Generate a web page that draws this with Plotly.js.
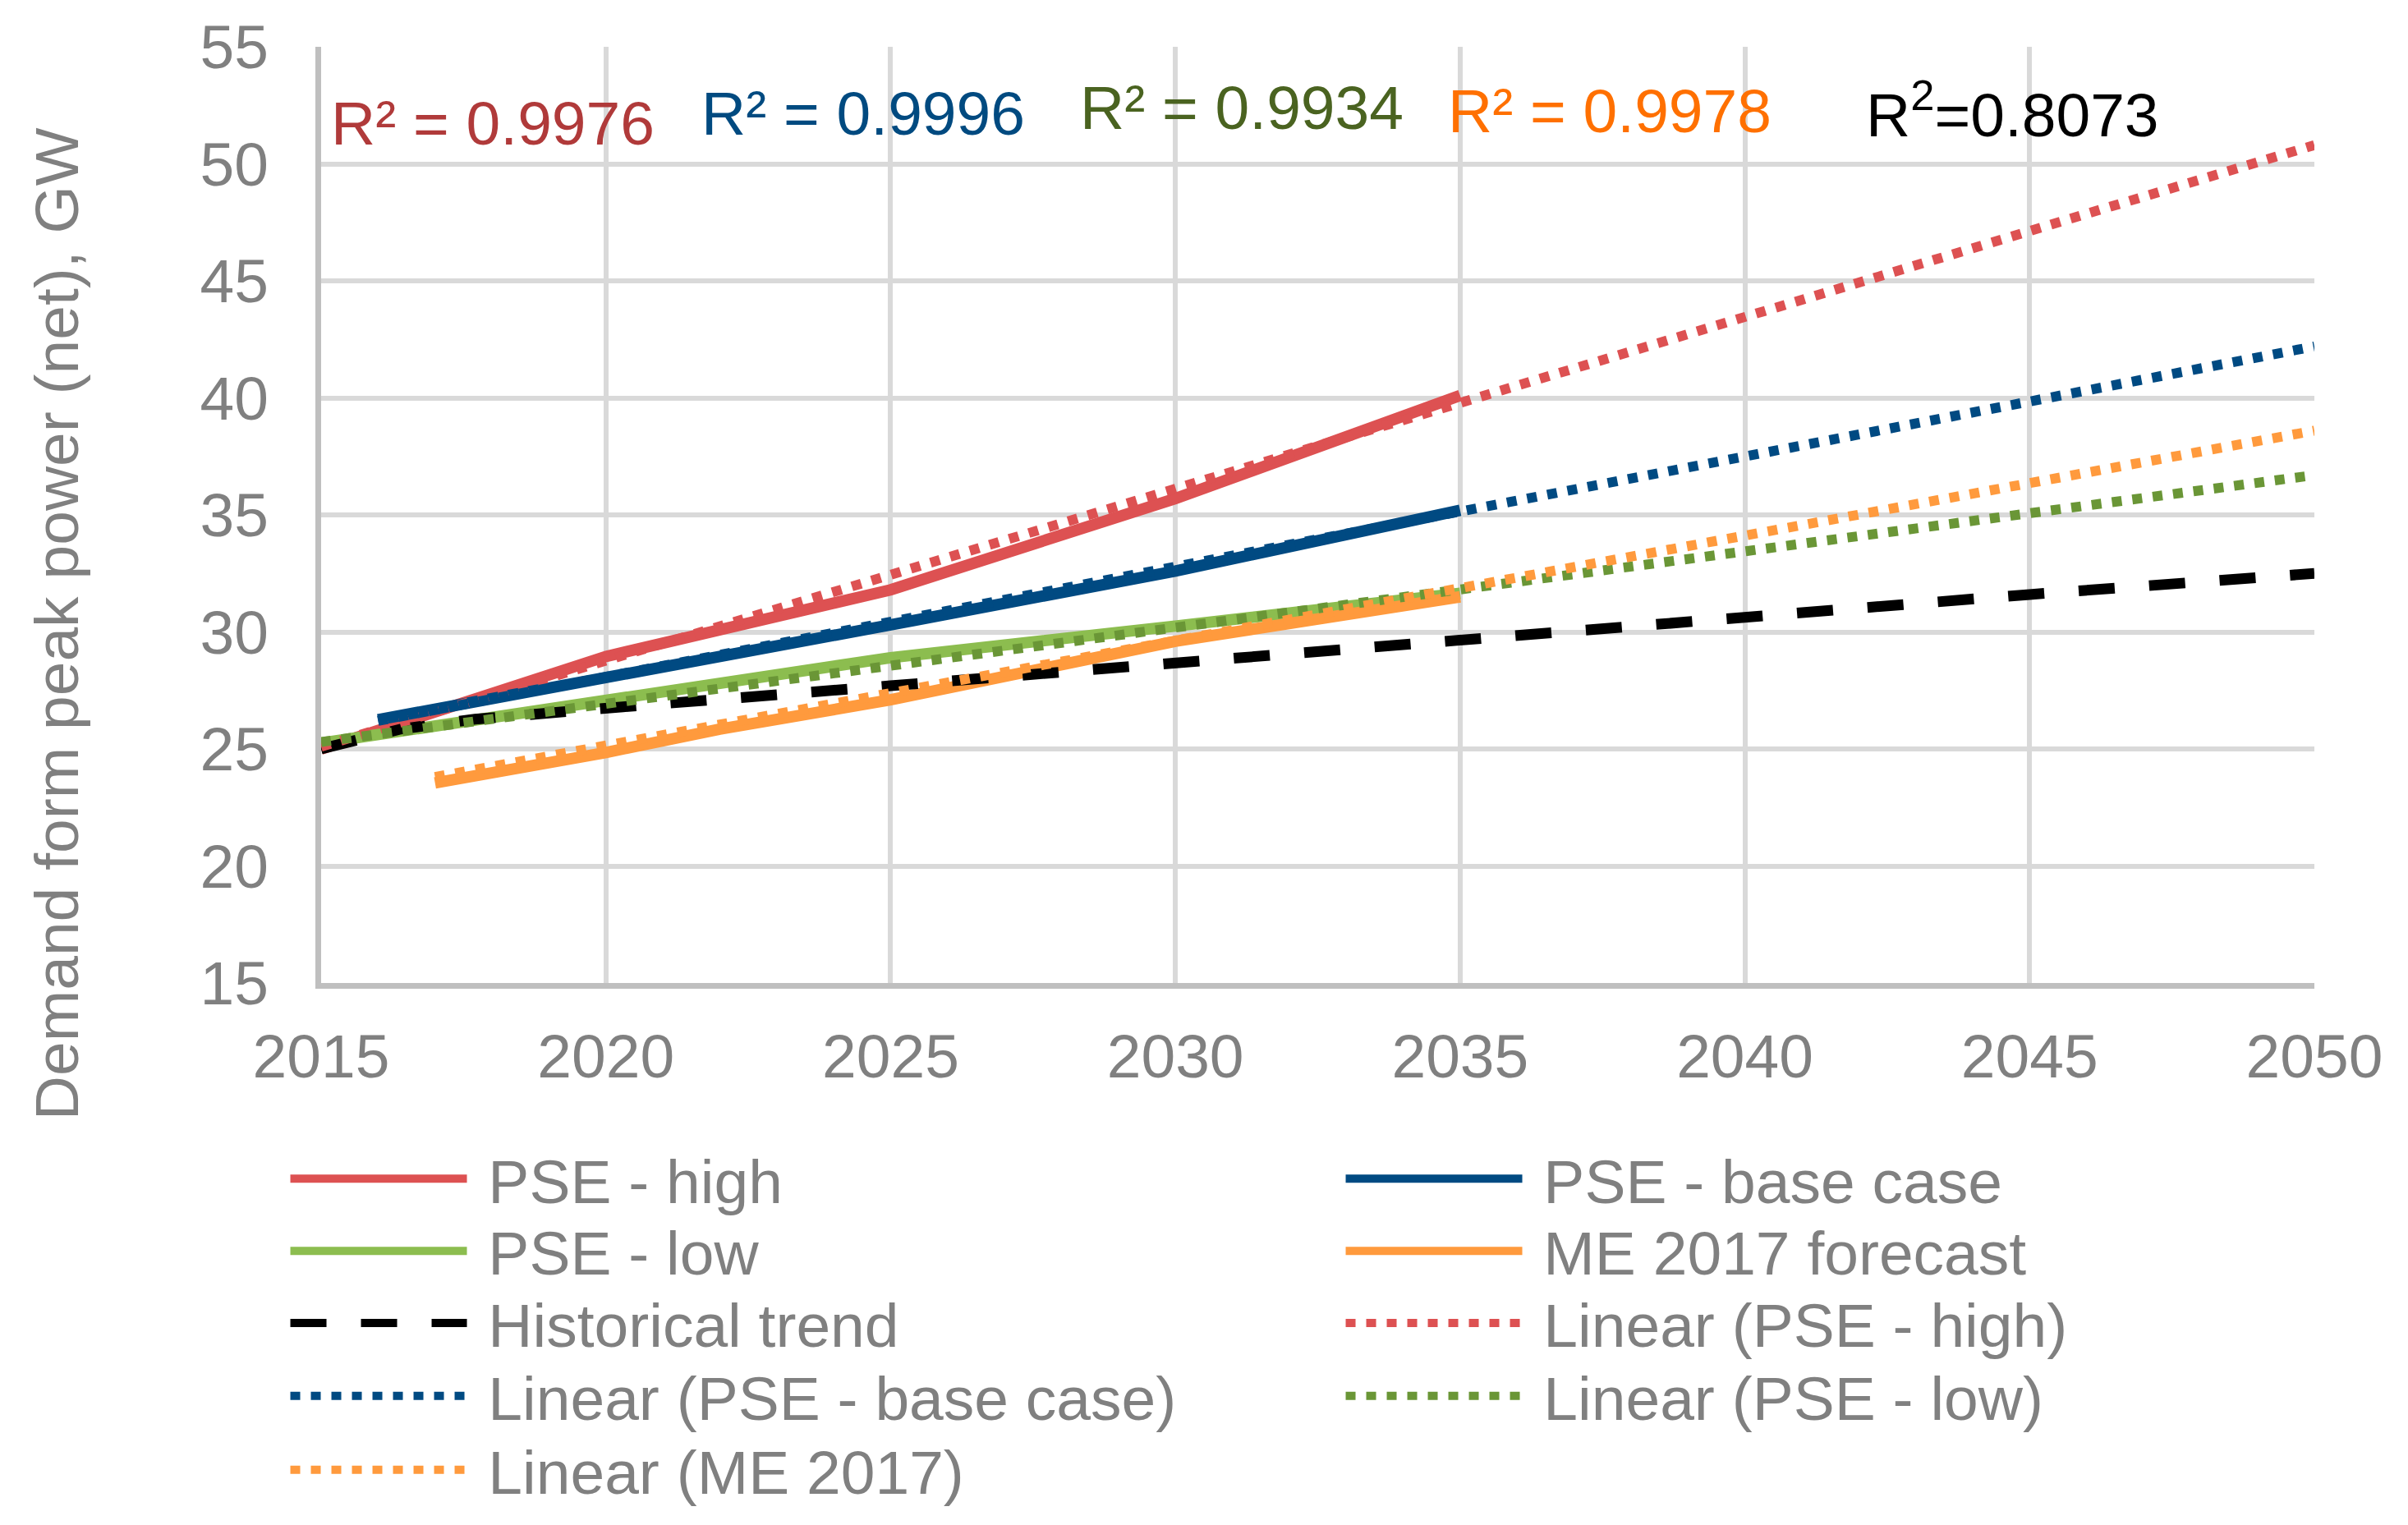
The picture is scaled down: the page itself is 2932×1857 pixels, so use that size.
<!DOCTYPE html>
<html>
<head>
<meta charset="utf-8">
<script src="https://cdn.plot.ly/plotly-3.0.1.min.js"></script>
<style>
  html, body { margin: 0; padding: 0; background: #ffffff; }
  #chart { width: 2932px; height: 1857px; }
</style>
</head>
<body>
<div id="chart"></div>
<script>
// ---- data ----
const yearsHigh = [2015, 2020, 2025, 2030, 2035];
const pseHigh   = [25.0, 28.95, 31.8, 35.7, 40.1];

const yearsBase = [2016, 2020, 2025, 2030, 2035];
const pseBase   = [26.25, 28.1, 30.3, 32.6, 35.2];

const yearsLow  = [2015, 2020, 2025, 2030, 2035];
const pseLow    = [25.25, 27.05, 28.9, 30.25, 31.65];

const yearsME   = [2017, 2020, 2022, 2025, 2030, 2035];
const me2017    = [23.55, 24.85, 25.85, 27.1, 29.6, 31.5];

const yearsHist = [2015, 2016.4, 2017.7, 2019, 2020.3, 2025, 2030, 2035, 2040, 2045, 2050];
const histTrend = [25.0, 25.85, 26.27, 26.55, 26.8, 27.7, 28.7, 29.7, 30.6, 31.6, 32.5];

// linear trendlines (start / end)
const linHighX = [2015, 2050]; const linHighY = [25.1, 50.8];
const linBaseX = [2016, 2050]; const linBaseY = [26.2, 42.2];
const linLowX  = [2015, 2050]; const linLowY  = [25.3, 36.7];
const linMEX   = [2017, 2050]; const linMEY   = [23.8, 38.6];

const names = ["PSE - high", "PSE - base case", "PSE - low", "ME 2017 forecast",
               "Historical trend", "Linear (PSE - high)", "Linear (PSE - base case)",
               "Linear (PSE - low)", "Linear (ME 2017)"];

const r2Labels = ["R² = 0.9976", "R² = 0.9996", "R² = 0.9934", "R² = 0.9978", "R<sup>2</sup>=0.8073"];

const yTitle = "Demand form peak power (net), GW";
const xTicks = [2015, 2020, 2025, 2030, 2035, 2040, 2045, 2050];
const yTicks = [15, 20, 25, 30, 35, 40, 45, 50, 55];

// ---- styling ----
const cRed = "#DD5152", cBlue = "#004A82", cGreen = "#8CBD4F", cGreenDot = "#6A9636",
      cOrange = "#FF9A3D", cBlack = "#000000";
const solidW = 14, dotW = 12;
const dotDash = "12px,13px";
const FONT = "Liberation Sans, Arial, sans-serif";
const FS = 75;
const lbl = n => "\u00A0" + n;   // small gap between legend sample and its text

// legend rows (two entries per row, row-major like the original)
const legendOf = ["legend", "legend", "legend2", "legend2", "legend3", "legend3", "legend4", "legend4", "legend5"];

const traces = [
  {x: yearsHigh, y: pseHigh, name: lbl(names[0]), mode: "lines", line: {color: cRed, width: solidW}},
  {x: yearsBase, y: pseBase, name: lbl(names[1]), mode: "lines", line: {color: cBlue, width: solidW}},
  {x: yearsLow,  y: pseLow,  name: lbl(names[2]), mode: "lines", line: {color: cGreen, width: solidW}},
  {x: yearsME,   y: me2017,  name: lbl(names[3]), mode: "lines", line: {color: cOrange, width: solidW}},
  {x: yearsHist, y: histTrend, name: lbl(names[4]), mode: "lines", line: {color: cBlack, width: 13, dash: "44px,42px"}},
  {x: linHighX, y: linHighY, name: lbl(names[5]), mode: "lines", line: {color: cRed, width: dotW, dash: dotDash}},
  {x: linBaseX, y: linBaseY, name: lbl(names[6]), mode: "lines", line: {color: cBlue, width: dotW, dash: dotDash}},
  {x: linLowX,  y: linLowY,  name: lbl(names[7]), mode: "lines", line: {color: cGreenDot, width: dotW, dash: dotDash}},
  {x: linMEX,   y: linMEY,   name: lbl(names[8]), mode: "lines", line: {color: cOrange, width: dotW, dash: dotDash}}
];
traces.forEach((t, i) => { t.legend = legendOf[i]; });

const annColors = ["#B03A3A", "#004A80", "#4A6320", "#FF7000", "#000000"];
const annX = [2015.15, 2021.65, 2028.3, 2034.75, 2042.1];
const annY = [51.75, 52.15, 52.4, 52.25, 52.3];

const annotations = r2Labels.map((t, i) => ({
  text: t, x: annX[i], y: annY[i], xref: "x", yref: "y",
  xanchor: "left", yanchor: "middle", showarrow: false,
  font: {family: FONT, size: FS, color: annColors[i]}
}));
// y-axis title (placed like the original, lower than the axis centre)
annotations.push({
  text: yTitle, xref: "paper", yref: "paper", x: -0.1327, y: 0.384,
  xanchor: "center", yanchor: "middle", textangle: -90, showarrow: false,
  font: {family: FONT, size: FS, color: "#808080"}
});

const gray = "#808080";
const rowY = [-0.2093, -0.2863, -0.3634, -0.4413, -0.5201];
function legendRow(y) {
  return {
    orientation: "h", x: -0.0175, xanchor: "left", y: y, yanchor: "middle",
    entrywidth: 1055, entrywidthmode: "pixels", itemwidth: 215,
    font: {family: FONT, size: FS, color: gray}, traceorder: "normal",
    bgcolor: "rgba(0,0,0,0)"
  };
}

const layout = {
  width: 2932, height: 1857,
  paper_bgcolor: "#ffffff", plot_bgcolor: "#ffffff",
  margin: {l: 391, r: 114, t: 57, b: 658},
  font: {family: FONT, color: gray, size: FS},
  showlegend: true,
  xaxis: {
    range: [2015, 2050], tickvals: xTicks, ticktext: xTicks.map(String),
    showgrid: true, gridcolor: "#D9D9D9", gridwidth: 6,
    showline: true, linecolor: "#BFBFBF", linewidth: 7,
    zeroline: false, ticks: "", ticklabelstandoff: 18,
    tickfont: {size: FS, color: gray}
  },
  yaxis: {
    range: [15, 55], tickvals: yTicks, ticktext: yTicks.map(String),
    showgrid: true, gridcolor: "#D9D9D9", gridwidth: 6,
    showline: true, linecolor: "#BFBFBF", linewidth: 7,
    zeroline: false, ticks: "", ticklabelstandoff: 42,
    tickfont: {size: FS, color: gray}
  },
  legend: legendRow(rowY[0]),
  legend2: legendRow(rowY[1]),
  legend3: legendRow(rowY[2]),
  legend4: legendRow(rowY[3]),
  legend5: legendRow(rowY[4]),
  annotations: annotations
};

Plotly.newPlot("chart", traces, layout, {staticPlot: true});
</script>
</body>
</html>
